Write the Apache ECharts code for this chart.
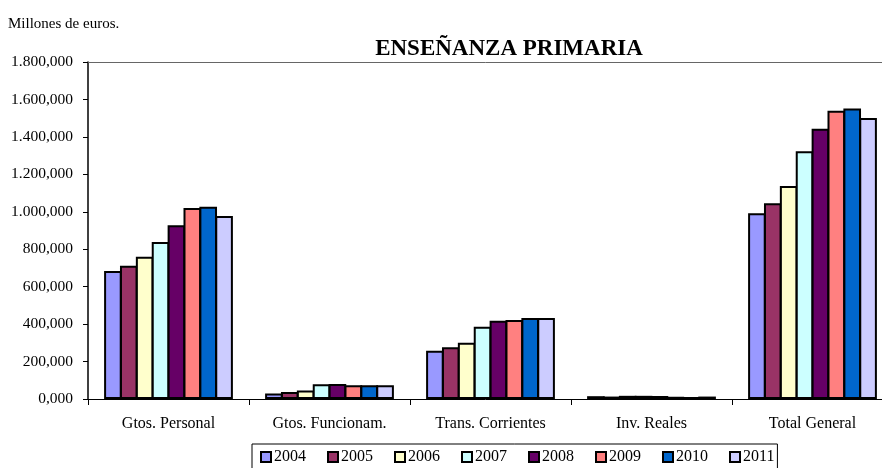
<!DOCTYPE html>
<html>
<head>
<meta charset="utf-8">
<script src="https://cdn.jsdelivr.net/npm/echarts@6/dist/echarts.min.js"></script>
<style>
html,body{margin:0;padding:0;background:#fff;}
#c{width:882px;height:468px;}
</style>
</head>
<body>
<div id="c"></div>
<script>
const categories = ['Gtos. Personal', 'Gtos. Funcionam.', 'Trans. Corrientes', 'Inv. Reales', 'Total General'];
const years = ['2004', '2005', '2006', '2007', '2008', '2009', '2010', '2011'];
const v2004 = [684, 30, 258, 15, 992];
const v2005 = [712, 37, 276, 13, 1045];
const v2006 = [760, 46, 301, 17, 1138];
const v2007 = [839, 79, 386, 17, 1323];
const v2008 = [928, 80, 418, 16, 1444];
const v2009 = [1020, 74, 422, 12, 1540];
const v2010 = [1027, 73, 433, 10, 1551];
const v2011 = [978, 73, 432, 13, 1501];
const seriesValues = [v2004, v2005, v2006, v2007, v2008, v2009, v2010, v2011];
const colors = ['#9999FF', '#993366', '#FFFFCC', '#CCFFFF', '#660066', '#FF8080', '#0066CC', '#CCCCFF'];
const yMax = 1800, yStep = 200;

function fmt(v) {
  const s = v.toFixed(3).split('.');
  const intPart = s[0].replace(/\B(?=(\d{3})+(?!\d))/g, '.');
  return intPart + ',' + s[1];
}

const FONT = '"Liberation Serif", "Times New Roman", serif';
const chart = echarts.init(document.getElementById('c'), null, {renderer: 'canvas'});
chart.setOption({
  animation: false,
  backgroundColor: '#fff',
  color: colors,
  title: [
    {text: 'ENSEÑANZA PRIMARIA', left: 504, top: 33, textAlign: 'center',
     textStyle: {fontFamily: FONT, fontSize: 23, fontWeight: 'bold', color: '#000'}},
    {text: 'Millones de euros.', left: 3, top: 12,
     textStyle: {fontFamily: FONT, fontSize: 15, fontWeight: 'normal', color: '#000'}}
  ],
  legend: {
    left: 252, top: 444,
    padding: [5, 3, 10, 8],
    borderColor: '#000', borderWidth: 1,
    itemWidth: 10, itemHeight: 10, itemGap: 21,
    icon: 'rect',
    textStyle: {fontFamily: FONT, fontSize: 16, color: '#000', padding: [0,0,0,-2]},
    data: years
  },
  grid: {left: 88, top: 62, width: 805, height: 337, containLabel: false, outerBoundsMode: 'none'},
  xAxis: [{
    type: 'category', data: categories,
    axisLine: {lineStyle: {color: '#000', width: 1}},
    axisTick: {show: true, alignWithLabel: false, length: 6, lineStyle: {color: '#000'}},
    axisLabel: {fontFamily: FONT, fontSize: 16, color: '#000', margin: 17},
    splitLine: {show: false}
  }, {
    type: 'category', data: categories, position: 'top',
    axisLine: {lineStyle: {color: '#666', width: 1}},
    axisTick: {show: false}, axisLabel: {show: false}
  }],
  yAxis: {
    type: 'value', min: 0, max: yMax, interval: yStep,
    axisLine: {show: true, lineStyle: {color: '#000', width: 1.5}},
    axisTick: {show: true, length: 5, lineStyle: {color: '#000'}},
    axisLabel: {fontFamily: FONT, fontSize: 15.5, color: '#000', margin: 15, formatter: fmt},
    splitLine: {show: false}
  },
  series: years.map((y, i) => ({
    name: y, type: 'bar', data: seriesValues[i],
    barGap: '-10%', barCategoryGap: '20%',
    itemStyle: {color: colors[i], borderColor: '#000', borderWidth: 2}
  }))
});
</script>
</body>
</html>
